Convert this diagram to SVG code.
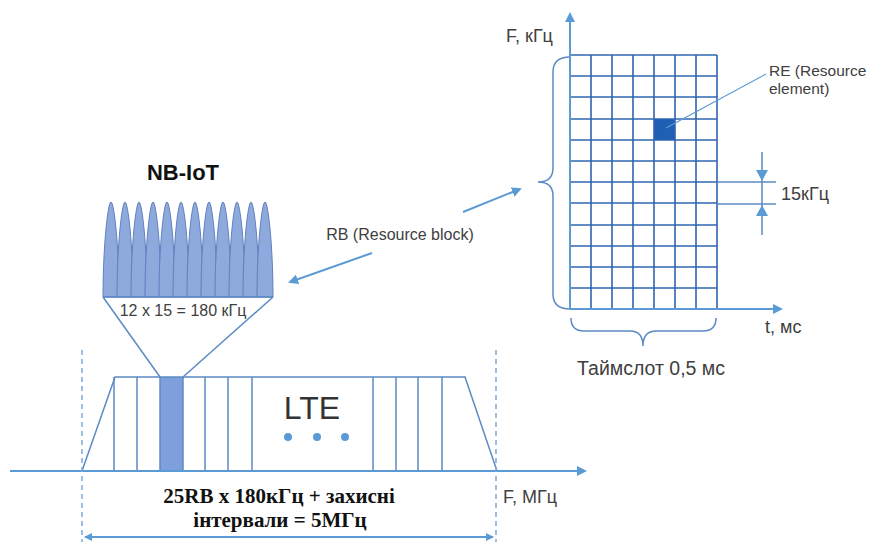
<svg xmlns="http://www.w3.org/2000/svg" width="872" height="542" viewBox="0 0 872 542">
<style>
.ax{stroke:#5b9bd5;stroke-width:2;fill:none}
.ln{stroke:#5b8ac4;stroke-width:1.5;fill:none}
.gr{stroke:#2f64b0;stroke-width:1.6;fill:none}
.dash{stroke:#7fa9d8;stroke-width:1.5;stroke-dasharray:5,4;fill:none}
.lab{font-family:"Liberation Sans",Arial,sans-serif;fill:#404040}
.bold{font-family:"Liberation Serif","Times New Roman",serif;font-weight:bold;fill:#111;font-size:21px}
.lobe{fill:#8eaadc;stroke:#5e80c0;stroke-width:1}
</style>
<defs>
<marker id="ah" markerWidth="10" markerHeight="10" refX="8" refY="5" orient="auto" markerUnits="userSpaceOnUse">
<path d="M0,0 L10,5 L0,10 Z" fill="#5b9bd5"/>
</marker>
<marker id="ahs" markerWidth="8" markerHeight="8" refX="7" refY="4" orient="auto-start-reverse" markerUnits="userSpaceOnUse">
<path d="M0,0 L8,4 L0,8 Z" fill="#5b9bd5"/>
</marker>
<path id="lb" d="M-8,297 C-8,245 -3,202 0,202 C3,202 8,245 8,297 Z"/>
</defs>
<rect width="872" height="542" fill="#fff"/>

<g id="nbiot">
<text class="lab" x="183" y="180" font-size="22" font-weight="bold" text-anchor="middle" style="fill:#111">NB-IoT</text>
<g class="lobe">
<use href="#lb" x="111"/><use href="#lb" x="125"/><use href="#lb" x="139"/><use href="#lb" x="153"/>
<use href="#lb" x="167"/><use href="#lb" x="181"/><use href="#lb" x="195"/><use href="#lb" x="209"/>
<use href="#lb" x="223"/><use href="#lb" x="237"/><use href="#lb" x="251"/><use href="#lb" x="265"/>
</g>
<line x1="103" y1="297" x2="273" y2="297" class="ln"/>
<text class="lab" x="183" y="316" font-size="16" text-anchor="middle">12 x 15 = 180 кГц</text>
</g>

<g id="lte">
<rect x="160" y="377" width="23" height="94" fill="#7f9fdc"/>
<path class="ln" d="M82,471 L115,377 L465,377 L497,471"/>
<g class="ln">
<line x1="114" y1="377" x2="114" y2="471"/><line x1="137" y1="377" x2="137" y2="471"/>
<line x1="160" y1="377" x2="160" y2="471"/><line x1="183" y1="377" x2="183" y2="471"/>
<line x1="205" y1="377" x2="205" y2="471"/><line x1="228" y1="377" x2="228" y2="471"/>
<line x1="252" y1="377" x2="252" y2="471"/>
<line x1="373" y1="377" x2="373" y2="471"/><line x1="396" y1="377" x2="396" y2="471"/>
<line x1="418" y1="377" x2="418" y2="471"/><line x1="442" y1="377" x2="442" y2="471"/>
</g>
<text class="lab" x="312" y="419" font-size="32" text-anchor="middle" style="fill:#333">LTE</text>
<circle cx="288" cy="437" r="4" fill="#5b9bd5"/>
<circle cx="317" cy="437" r="4" fill="#5b9bd5"/>
<circle cx="345" cy="437" r="4" fill="#5b9bd5"/>
</g>

<g id="rb-grid">
<rect x="654" y="119" width="21" height="21" fill="#1f5fb4"/>
<g class="gr">
<line x1="570" y1="55" x2="717" y2="55"/><line x1="570" y1="76" x2="717" y2="76"/>
<line x1="570" y1="97" x2="717" y2="97"/><line x1="570" y1="119" x2="717" y2="119"/>
<line x1="570" y1="140" x2="717" y2="140"/><line x1="570" y1="161" x2="717" y2="161"/>
<line x1="570" y1="182" x2="717" y2="182"/><line x1="570" y1="203" x2="717" y2="203"/>
<line x1="570" y1="225" x2="717" y2="225"/><line x1="570" y1="246" x2="717" y2="246"/>
<line x1="570" y1="267" x2="717" y2="267"/><line x1="570" y1="288" x2="717" y2="288"/>
<line x1="591" y1="55" x2="591" y2="309"/><line x1="612" y1="55" x2="612" y2="309"/>
<line x1="633" y1="55" x2="633" y2="309"/><line x1="654" y1="55" x2="654" y2="309"/>
<line x1="675" y1="55" x2="675" y2="309"/><line x1="696" y1="55" x2="696" y2="309"/>
<line x1="717" y1="55" x2="717" y2="309"/>
</g>
<path class="ln" d="M570,57 Q553,57 553,72 L553,168 Q553,182 538,182 Q553,182 553,196 L553,294 Q553,309 570,309"/>
<path class="ln" d="M571,318 Q571,331 584,331 L630,331 Q643,331 643,346 Q643,331 656,331 L703,331 Q716,331 716,318"/>
<text class="lab" x="506" y="42" font-size="18">F, кГц</text>
<text class="lab" x="765" y="333" font-size="18">t, мс</text>
<text class="lab" x="651" y="375" font-size="19.5" text-anchor="middle">Таймслот 0,5 мс</text>
<line x1="717" y1="182" x2="776" y2="182" class="ln"/>
<line x1="717" y1="204" x2="776" y2="204" class="ln"/>
<line x1="762" y1="152" x2="762" y2="235" class="ln"/>
<path d="M756,170 L768,170 L762,181 Z" fill="#5b9bd5"/>
<path d="M756,216 L768,216 L762,205 Z" fill="#5b9bd5"/>
<text class="lab" x="781" y="200" font-size="18">15кГц</text>
<text class="lab" x="769" y="76" font-size="15.5">RE (Resource</text>
<text class="lab" x="769" y="94" font-size="15.5">element)</text>
</g>

<g id="connectors">
<line x1="570" y1="309" x2="570" y2="14" class="ax" marker-end="url(#ah)"/>
<line x1="570" y1="309" x2="781" y2="309" class="ax" marker-end="url(#ah)"/>
<line x1="10" y1="471" x2="585" y2="471" class="ax" marker-end="url(#ah)"/>
<line x1="82" y1="350" x2="82" y2="542" class="dash"/>
<line x1="496" y1="350" x2="496" y2="542" class="dash"/>
<line x1="85" y1="537" x2="493" y2="537" class="ax" marker-start="url(#ahs)" marker-end="url(#ahs)"/>
<line x1="103" y1="297" x2="160" y2="377" class="ln"/>
<line x1="273" y1="297" x2="183" y2="377" class="ln"/>
<line x1="463" y1="212" x2="520" y2="189" class="ax" marker-end="url(#ah)"/>
<line x1="372" y1="253" x2="290" y2="282" class="ax" marker-end="url(#ah)"/>
<line x1="666" y1="128" x2="766" y2="74" stroke="#5b9bd5" stroke-width="1.2"/>
</g>

<text class="lab" x="400" y="240" font-size="16" text-anchor="middle">RB (Resource block)</text>
<text class="lab" x="503" y="503" font-size="18">F, МГц</text>
<text class="bold" x="279" y="503" text-anchor="middle">25RB x 180кГц + захисні</text>
<text class="bold" x="280" y="527" text-anchor="middle">інтервали = 5МГц</text>
</svg>
